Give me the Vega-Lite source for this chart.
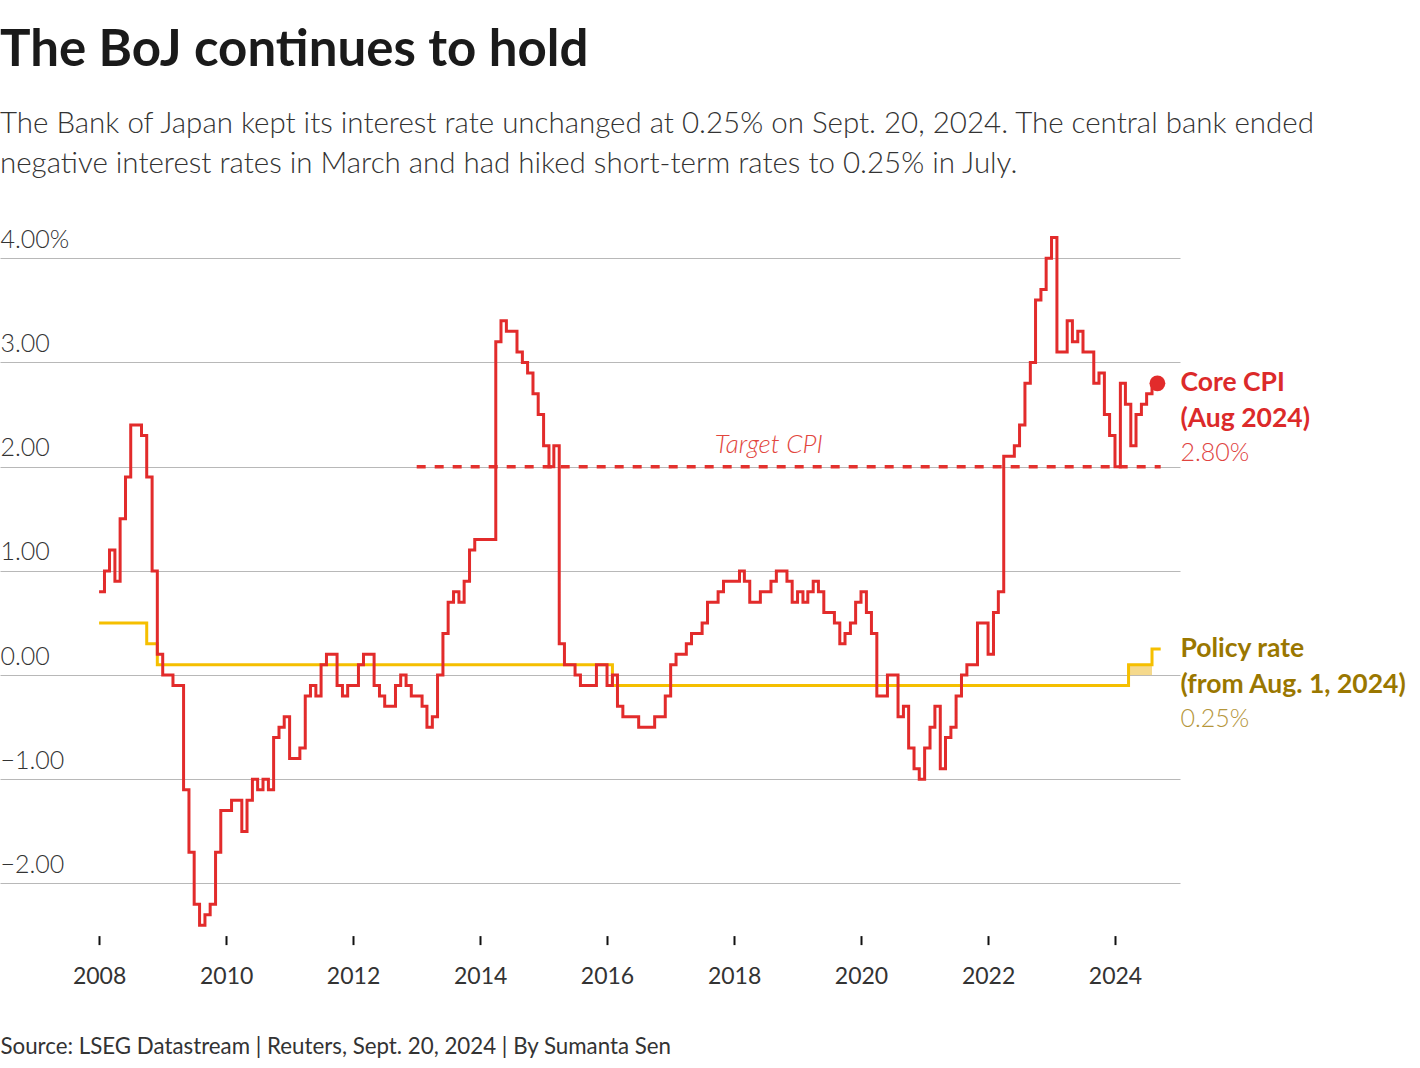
{
"$schema":"https://vega.github.io/schema/vega-lite/v6.json",
"width":1180,"height":708.6,
"autosize":{"type":"none"},
"padding":{"left":0,"top":227,"right":240,"bottom":132.4},
"background":"#ffffff",
"config":{"view":{"stroke":null},"font":"Lato"},
"title":{"text":"The BoJ continues to hold","subtitle":["The Bank of Japan kept its interest rate unchanged at 0.25% on Sept. 20, 2024. The central bank ended","negative interest rates in March and had hiked short-term rates to 0.25% in July."],"anchor":"start","frame":"group","font":"Lato","fontSize":51,"fontWeight":700,"color":"#1a1a1a","subtitleFont":"Lato","subtitleFontSize":29.5,"subtitleFontWeight":300,"subtitleColor":"#333333","subtitleLineHeight":40,"subtitlePadding":32.5,"offset":48},
"datasets":{
"cpi":[
{"d":"2008-01-01","v":0.8},{"d":"2008-02-01","v":1.0},{"d":"2008-03-01","v":1.2},{"d":"2008-04-01","v":0.9},{"d":"2008-05-01","v":1.5},{"d":"2008-06-01","v":1.9},{"d":"2008-07-01","v":2.4},{"d":"2008-08-01","v":2.4},{"d":"2008-09-01","v":2.3},{"d":"2008-10-01","v":1.9},{"d":"2008-11-01","v":1.0},{"d":"2008-12-01","v":0.2},
{"d":"2009-01-01","v":0.0},{"d":"2009-02-01","v":0.0},{"d":"2009-03-01","v":-0.1},{"d":"2009-04-01","v":-0.1},{"d":"2009-05-01","v":-1.1},{"d":"2009-06-01","v":-1.7},{"d":"2009-07-01","v":-2.2},{"d":"2009-08-01","v":-2.4},{"d":"2009-09-01","v":-2.3},{"d":"2009-10-01","v":-2.2},{"d":"2009-11-01","v":-1.7},{"d":"2009-12-01","v":-1.3},
{"d":"2010-01-01","v":-1.3},{"d":"2010-02-01","v":-1.2},{"d":"2010-03-01","v":-1.2},{"d":"2010-04-01","v":-1.5},{"d":"2010-05-01","v":-1.2},{"d":"2010-06-01","v":-1.0},{"d":"2010-07-01","v":-1.1},{"d":"2010-08-01","v":-1.0},{"d":"2010-09-01","v":-1.1},{"d":"2010-10-01","v":-0.6},{"d":"2010-11-01","v":-0.5},{"d":"2010-12-01","v":-0.4},
{"d":"2011-01-01","v":-0.8},{"d":"2011-02-01","v":-0.8},{"d":"2011-03-01","v":-0.7},{"d":"2011-04-01","v":-0.2},{"d":"2011-05-01","v":-0.1},{"d":"2011-06-01","v":-0.2},{"d":"2011-07-01","v":0.1},{"d":"2011-08-01","v":0.2},{"d":"2011-09-01","v":0.2},{"d":"2011-10-01","v":-0.1},{"d":"2011-11-01","v":-0.2},{"d":"2011-12-01","v":-0.1},
{"d":"2012-01-01","v":-0.1},{"d":"2012-02-01","v":0.1},{"d":"2012-03-01","v":0.2},{"d":"2012-04-01","v":0.2},{"d":"2012-05-01","v":-0.1},{"d":"2012-06-01","v":-0.2},{"d":"2012-07-01","v":-0.3},{"d":"2012-08-01","v":-0.3},{"d":"2012-09-01","v":-0.1},{"d":"2012-10-01","v":0.0},{"d":"2012-11-01","v":-0.1},{"d":"2012-12-01","v":-0.2},
{"d":"2013-01-01","v":-0.2},{"d":"2013-02-01","v":-0.3},{"d":"2013-03-01","v":-0.5},{"d":"2013-04-01","v":-0.4},{"d":"2013-05-01","v":0.0},{"d":"2013-06-01","v":0.4},{"d":"2013-07-01","v":0.7},{"d":"2013-08-01","v":0.8},{"d":"2013-09-01","v":0.7},{"d":"2013-10-01","v":0.9},{"d":"2013-11-01","v":1.2},{"d":"2013-12-01","v":1.3},
{"d":"2014-01-01","v":1.3},{"d":"2014-02-01","v":1.3},{"d":"2014-03-01","v":1.3},{"d":"2014-04-01","v":3.2},{"d":"2014-05-01","v":3.4},{"d":"2014-06-01","v":3.3},{"d":"2014-07-01","v":3.3},{"d":"2014-08-01","v":3.1},{"d":"2014-09-01","v":3.0},{"d":"2014-10-01","v":2.9},{"d":"2014-11-01","v":2.7},{"d":"2014-12-01","v":2.5},
{"d":"2015-01-01","v":2.2},{"d":"2015-02-01","v":2.0},{"d":"2015-03-01","v":2.2},{"d":"2015-04-01","v":0.3},{"d":"2015-05-01","v":0.1},{"d":"2015-06-01","v":0.1},{"d":"2015-07-01","v":0.0},{"d":"2015-08-01","v":-0.1},{"d":"2015-09-01","v":-0.1},{"d":"2015-10-01","v":-0.1},{"d":"2015-11-01","v":0.1},{"d":"2015-12-01","v":0.1},
{"d":"2016-01-01","v":-0.1},{"d":"2016-02-01","v":0.0},{"d":"2016-03-01","v":-0.3},{"d":"2016-04-01","v":-0.4},{"d":"2016-05-01","v":-0.4},{"d":"2016-06-01","v":-0.4},{"d":"2016-07-01","v":-0.5},{"d":"2016-08-01","v":-0.5},{"d":"2016-09-01","v":-0.5},{"d":"2016-10-01","v":-0.4},{"d":"2016-11-01","v":-0.4},{"d":"2016-12-01","v":-0.2},
{"d":"2017-01-01","v":0.1},{"d":"2017-02-01","v":0.2},{"d":"2017-03-01","v":0.2},{"d":"2017-04-01","v":0.3},{"d":"2017-05-01","v":0.4},{"d":"2017-06-01","v":0.4},{"d":"2017-07-01","v":0.5},{"d":"2017-08-01","v":0.7},{"d":"2017-09-01","v":0.7},{"d":"2017-10-01","v":0.8},{"d":"2017-11-01","v":0.9},{"d":"2017-12-01","v":0.9},
{"d":"2018-01-01","v":0.9},{"d":"2018-02-01","v":1.0},{"d":"2018-03-01","v":0.9},{"d":"2018-04-01","v":0.7},{"d":"2018-05-01","v":0.7},{"d":"2018-06-01","v":0.8},{"d":"2018-07-01","v":0.8},{"d":"2018-08-01","v":0.9},{"d":"2018-09-01","v":1.0},{"d":"2018-10-01","v":1.0},{"d":"2018-11-01","v":0.9},{"d":"2018-12-01","v":0.7},
{"d":"2019-01-01","v":0.8},{"d":"2019-02-01","v":0.7},{"d":"2019-03-01","v":0.8},{"d":"2019-04-01","v":0.9},{"d":"2019-05-01","v":0.8},{"d":"2019-06-01","v":0.6},{"d":"2019-07-01","v":0.6},{"d":"2019-08-01","v":0.5},{"d":"2019-09-01","v":0.3},{"d":"2019-10-01","v":0.4},{"d":"2019-11-01","v":0.5},{"d":"2019-12-01","v":0.7},
{"d":"2020-01-01","v":0.8},{"d":"2020-02-01","v":0.6},{"d":"2020-03-01","v":0.4},{"d":"2020-04-01","v":-0.2},{"d":"2020-05-01","v":-0.2},{"d":"2020-06-01","v":0.0},{"d":"2020-07-01","v":0.0},{"d":"2020-08-01","v":-0.4},{"d":"2020-09-01","v":-0.3},{"d":"2020-10-01","v":-0.7},{"d":"2020-11-01","v":-0.9},{"d":"2020-12-01","v":-1.0},
{"d":"2021-01-01","v":-0.7},{"d":"2021-02-01","v":-0.5},{"d":"2021-03-01","v":-0.3},{"d":"2021-04-01","v":-0.9},{"d":"2021-05-01","v":-0.6},{"d":"2021-06-01","v":-0.5},{"d":"2021-07-01","v":-0.2},{"d":"2021-08-01","v":0.0},{"d":"2021-09-01","v":0.1},{"d":"2021-10-01","v":0.1},{"d":"2021-11-01","v":0.5},{"d":"2021-12-01","v":0.5},
{"d":"2022-01-01","v":0.2},{"d":"2022-02-01","v":0.6},{"d":"2022-03-01","v":0.8},{"d":"2022-04-01","v":2.1},{"d":"2022-05-01","v":2.1},{"d":"2022-06-01","v":2.2},{"d":"2022-07-01","v":2.4},{"d":"2022-08-01","v":2.8},{"d":"2022-09-01","v":3.0},{"d":"2022-10-01","v":3.6},{"d":"2022-11-01","v":3.7},{"d":"2022-12-01","v":4.0},
{"d":"2023-01-01","v":4.2},{"d":"2023-02-01","v":3.1},{"d":"2023-03-01","v":3.1},{"d":"2023-04-01","v":3.4},{"d":"2023-05-01","v":3.2},{"d":"2023-06-01","v":3.3},{"d":"2023-07-01","v":3.1},{"d":"2023-08-01","v":3.1},{"d":"2023-09-01","v":2.8},{"d":"2023-10-01","v":2.9},{"d":"2023-11-01","v":2.5},{"d":"2023-12-01","v":2.3},
{"d":"2024-01-01","v":2.0},{"d":"2024-02-01","v":2.8},{"d":"2024-03-01","v":2.6},{"d":"2024-04-01","v":2.2},{"d":"2024-05-01","v":2.5},{"d":"2024-06-01","v":2.6},{"d":"2024-07-01","v":2.7},{"d":"2024-08-01","v":2.8},{"d":"2024-09-01","v":2.8}
],
"policy":[{"d":"2008-01-01","v":0.5},{"d":"2008-10-01","v":0.3},{"d":"2008-12-01","v":0.1},{"d":"2016-02-01","v":-0.1},{"d":"2024-03-19","v":0.1},{"d":"2024-08-01","v":0.25},{"d":"2024-09-20","v":0.25}],
"band":[{"d":"2024-03-19","d2":"2024-08-01","v":0,"v2":0.1}],
"target":[{"d":"2013-01-01","d2":"2024-09-20","v":2}],
"last":[{"d":"2024-09-01","v":2.8}]
},
"encoding":{
"x":{"field":"d","type":"temporal","scale":{"type":"utc","nice":false,"domain":[{"year":2006,"month":6,"date":10,"utc":true},{"year":2025,"month":1,"date":9,"utc":true}]},
"axis":{"values":[{"year":2008,"utc":true},{"year":2010,"utc":true},{"year":2012,"utc":true},{"year":2014,"utc":true},{"year":2016,"utc":true},{"year":2018,"utc":true},{"year":2020,"utc":true},{"year":2022,"utc":true},{"year":2024,"utc":true}],"format":"%Y","grid":false,"domain":false,"ticks":true,"tickColor":"#111111","tickWidth":2,"tickSize":9,"labelFont":"Lato","labelFontSize":23,"labelColor":"#333333","labelPadding":21,"labelFlush":false,"labelOverlap":false,
"title":"Source: LSEG Datastream | Reuters, Sept. 20, 2024 | By Sumanta Sen","titleAnchor":"start","titleAlign":"left","titleFont":"Lato","titleFontSize":22.3,"titleFontWeight":400,"titleColor":"#333333","titlePadding":47}},
"y":{"field":"v","type":"quantitative","scale":{"domain":[-2.5,4.3],"nice":false,"zero":false},
"axis":{"values":[-2,-1,0,1,2,3,4],"labelExpr":"datum.value == 4 ? '4.00%' : replace(format(datum.value, '.2f'), '-', '\u2212')","grid":true,"gridColor":"#b8b8b8","gridWidth":1,"domain":false,"ticks":false,"tickSize":0,"labelAlign":"left","labelBaseline":"alphabetic","labelPadding":0,"labelOffset":-11,"labelFont":"Lato","labelFontSize":25,"labelFontWeight":300,"labelColor":"#333333","title":null}}
},
"layer":[
{"data":{"name":"band"},"mark":{"type":"rect","fill":"#f5d98c"},"encoding":{"x2":{"field":"d2"},"y2":{"field":"v2"}}},
{"data":{"name":"policy"},"mark":{"type":"line","interpolate":"step-after","color":"#f5bf00","strokeWidth":3}},
{"mark":{"type":"rule","color":"#000000","strokeWidth":1.5},"encoding":{"x":{"value":0},"x2":{"value":1180},"y":{"datum":0}}},
{"data":{"name":"target"},"mark":{"type":"rule","color":"#e3312d","strokeWidth":3.5,"strokeDash":[9,9]},"encoding":{"x2":{"field":"d2"}}},
{"data":{"name":"cpi"},"mark":{"type":"line","interpolate":"step-after","color":"#e22b2b","strokeWidth":3}},
{"data":{"name":"last"},"mark":{"type":"circle","color":"#e22b2b","size":250,"opacity":1}},
{"data":{"values":[{"d":"2018-07-20","v":2,"t":"Target CPI"}]},"mark":{"type":"text","font":"Lato","fontStyle":"italic","fontWeight":300,"fontSize":26,"color":"#e2463d","align":"center","baseline":"alphabetic","dy":-14},"encoding":{"text":{"field":"t"}}},
{"data":{"values":[{"d":"2024-09-01","v":2.8,"t":"Core CPI"}]},"mark":{"type":"text","font":"Lato","fontWeight":700,"fontSize":26.5,"color":"#dc2a2a","align":"left","baseline":"middle","dx":23},"encoding":{"text":{"field":"t"}}},
{"data":{"values":[{"d":"2024-09-01","v":2.8,"t":"(Aug 2024)"}]},"mark":{"type":"text","font":"Lato","fontWeight":700,"fontSize":26.5,"color":"#dc2a2a","align":"left","baseline":"middle","dx":23,"dy":36},"encoding":{"text":{"field":"t"}}},
{"data":{"values":[{"d":"2024-09-01","v":2.8,"t":"2.80%"}]},"mark":{"type":"text","font":"Lato","fontWeight":300,"fontSize":25,"color":"#e0443f","align":"left","baseline":"middle","dx":23,"dy":70},"encoding":{"text":{"field":"t"}}},
{"data":{"values":[{"d":"2024-09-01","v":0.25,"t":"Policy rate"}]},"mark":{"type":"text","font":"Lato","fontWeight":700,"fontSize":26.5,"color":"#9a7700","align":"left","baseline":"middle","dx":23},"encoding":{"text":{"field":"t"}}},
{"data":{"values":[{"d":"2024-09-01","v":0.25,"t":"(from Aug. 1, 2024)"}]},"mark":{"type":"text","font":"Lato","fontWeight":700,"fontSize":26.5,"color":"#9a7700","align":"left","baseline":"middle","dx":23,"dy":36},"encoding":{"text":{"field":"t"}}},
{"data":{"values":[{"d":"2024-09-01","v":0.25,"t":"0.25%"}]},"mark":{"type":"text","font":"Lato","fontWeight":300,"fontSize":25,"color":"#b5963a","align":"left","baseline":"middle","dx":23,"dy":70},"encoding":{"text":{"field":"t"}}}
]
}
